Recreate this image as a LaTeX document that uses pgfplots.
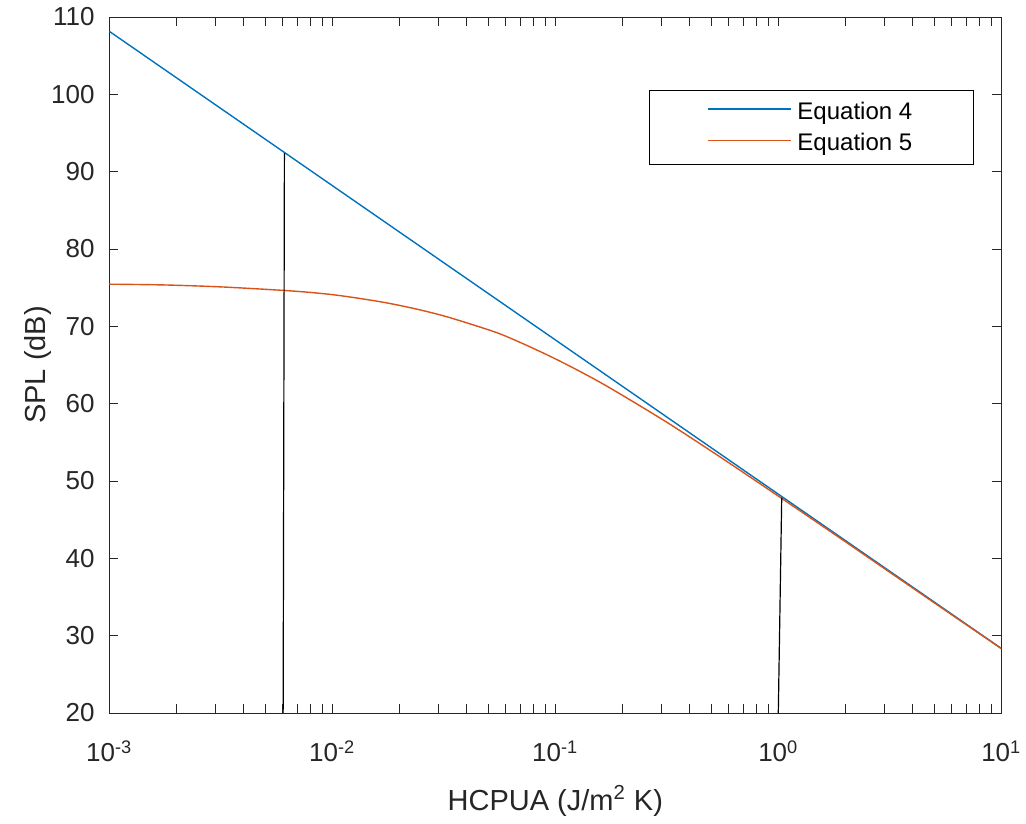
\documentclass[border=0pt]{standalone}
\usepackage{pgfplots}
\pgfplotsset{compat=1.18}
\usepackage{fontspec}
\setmainfont{Liberation Sans}
\definecolor{mblue}{RGB}{0,114,189}
\definecolor{morange}{RGB}{217,83,25}
\definecolor{axgray}{RGB}{38,38,38}
\begin{document}
\begin{tikzpicture}
\begin{axis}[
  scale only axis,
  width=446pt, height=348pt,
  xmode=log,
  xmin=1e-3, xmax=10, ymin=20, ymax=110,
  xtick={1e-3,1e-2,1e-1,1,10},
  xticklabels={10\textsuperscript{-3},10\textsuperscript{-2},10\textsuperscript{-1},10\textsuperscript{0},10\textsuperscript{1}},
  minor xtick={2e-3,3e-3,4e-3,5e-3,6e-3,7e-3,8e-3,9e-3,2e-2,3e-2,4e-2,5e-2,6e-2,7e-2,8e-2,9e-2,0.2,0.3,0.4,0.5,0.6,0.7,0.8,0.9,2,3,4,5,6,7,8,9},
  ytick={20,30,40,50,60,70,80,90,100,110},
  /pgf/number format/assume math mode=true,
  tick align=inside,
  major tick length=4.5pt, minor tick length=4.5pt,
  axis line style={axgray, line width=0.5pt},
  every tick/.style={axgray, line width=0.5pt},
  tick label style={font=\fontsize{13}{15}\selectfont, text=axgray},
  yticklabel style={anchor=east, inner sep=0pt, xshift=-7.2pt},
  xticklabel style={anchor=base, inner sep=0pt, yshift=-24.4pt},
  xlabel={HCPUA (J/m\textsuperscript{2} K)},
  ylabel={SPL (dB)},
  xlabel style={font=\fontsize{14.5}{17}\selectfont, text=axgray, at={(axis description cs:0.5,-0.1394)}, anchor=base},
  ylabel style={font=\fontsize{14.5}{17}\selectfont, text=axgray, at={(axis description cs:-0.08,0.5)}, anchor=center},
  legend style={at={(rel axis cs:0.969,0.895)}, anchor=north east, draw,
    inner xsep=28.5pt, inner ysep=3.6pt, row sep=1.6pt, column sep=1pt,
    font=\fontsize{12}{14}\selectfont},
  legend cell align=left,
  legend image code/.code={\draw[#1, line width=0.9pt] plot coordinates {(0pt,1.5pt) (41.5pt,1.5pt)};},
]
\addplot[color=mblue, line width=0.7pt]
  coordinates {(0.001,108.15) (10,28.35)};
\addlegendentry{Equation 4}
\addplot[color=morange, line width=0.7pt, smooth]
  coordinates {
(0.001,75.45) (0.001778,75.35) (0.003162,75.1) (0.005623,74.7) (0.007499,74.45)
(0.01,74.1) (0.013335,73.6) (0.017783,73.0) (0.023714,72.25) (0.031623,71.35)
(0.04217,70.25) (0.056234,69.05) (0.074989,67.5) (0.1,65.8) (0.133352,63.95)
(0.177828,61.95) (0.316228,57.6) (0.562341,52.9) (1,48.05) (1.778279,43.15)
(3.162278,38.2) (5.623413,33.25) (10,28.33)};
\addlegendentry{Equation 5}
\addplot[black, line width=0.6pt, forget plot] coordinates {(0.00602,20) (0.0061,92.4)};
\addplot[black, line width=0.6pt, forget plot] coordinates {(1.0,20) (1.036,47.85)};
\coordinate (O) at (rel axis cs:0,0);
\end{axis}
\pgfresetboundingbox
\path[use as bounding box] (O) ++(-54.65pt,-55pt) rectangle ++(513pt,411.5pt);
\end{tikzpicture}
\end{document}
